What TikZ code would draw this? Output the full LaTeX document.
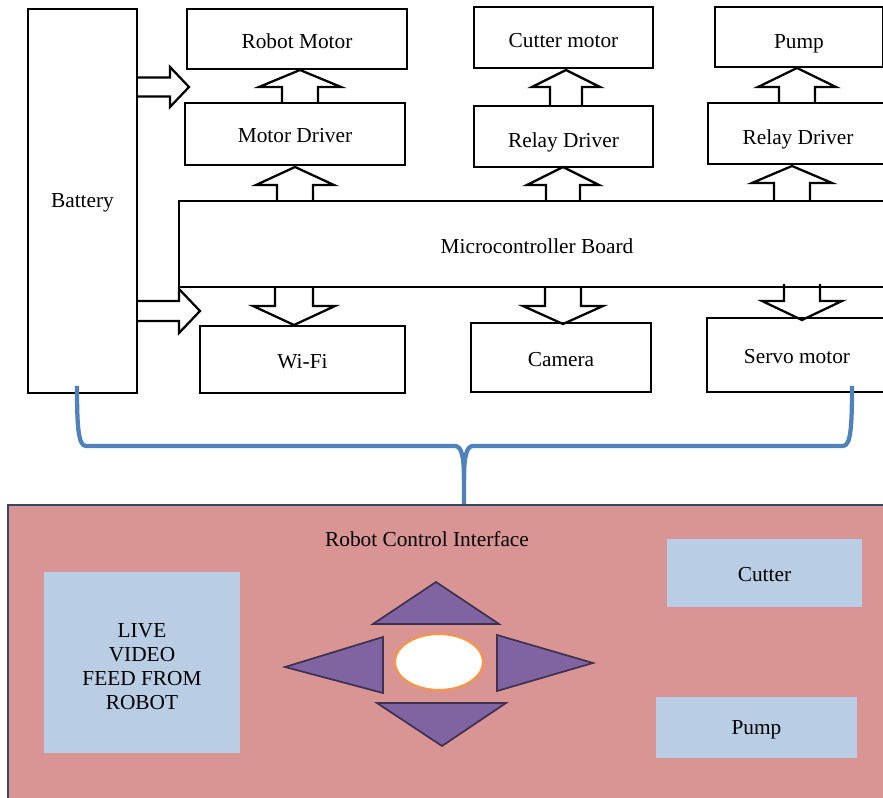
\documentclass[tikz,border=0pt]{standalone}
\usepackage{fontspec}
\setmainfont{Liberation Serif}
\usetikzlibrary{fit}
\definecolor{pinkbg}{HTML}{D99594}
\definecolor{panelborder}{HTML}{34496A}
\definecolor{lightblue}{HTML}{B9CDE5}
\definecolor{purp}{HTML}{8064A2}
\definecolor{purpdark}{HTML}{3F3151}
\definecolor{orng}{HTML}{F79646}
\definecolor{bracecol}{HTML}{4F81BD}
\tikzset{
  box/.style={draw=black, line width=1.7pt, inner sep=0pt, fill=white},
  blk/.style={draw=black, line width=1.7pt, line join=miter},
  uibox/.style={fill=lightblue, inner sep=0pt},
  tri/.style={fill=purp, draw=purpdark, line width=1.3pt, line join=miter},
  txt/.style={inner sep=0pt, anchor=center, yshift=-1.5pt},
}
% up block arrow: x center, y bottom, y tip, y head base, shaft half, head half
\newcommand\uparr[6]{%
  \draw[blk] ({#1-#5},#2) -- ({#1-#5},#4) -- ({#1-#6},#4) -- (#1,#3) -- ({#1+#6},#4) -- ({#1+#5},#4) -- ({#1+#5},#2);}
% down block arrow: x center, y top, y tip, y head base, shaft half, head half
\newcommand\dnarr[6]{%
  \draw[blk] ({#1-#5},#2) -- ({#1-#5},#4) -- ({#1-#6},#4) -- (#1,#3) -- ({#1+#6},#4) -- ({#1+#5},#4) -- ({#1+#5},#2);}
% right block arrow: y center, x left, x tip, x head base, shaft half, head half
\newcommand\rtarr[6]{%
  \draw[blk] (#2,{#1-#5}) -- (#4,{#1-#5}) -- (#4,{#1-#6}) -- (#3,#1) -- (#4,{#1+#6}) -- (#4,{#1+#5}) -- (#2,{#1+#5});}
\begin{document}
\begin{tikzpicture}[x=0.75pt, y=-0.75pt, font=\fontsize{16}{19}\selectfont]
\useasboundingbox (0,0) rectangle (883,798);

% ---- top block diagram ----
\node[box, fit={(28,9) (137,393)}] (bat) {};
\node[box, fit={(187,9) (407,69)}] (rm) {};
\node[box, fit={(185,103) (405,165)}] (md) {};
\node[box, fit={(474,7) (653,68)}] (cm) {};
\node[box, fit={(474,106) (653,167)}] (rd1) {};
\node[box, fit={(715,7) (883,67)}] (pm) {};
\node[box, fit={(708,103) (888,164)}] (rd2) {};
\node[box, fit={(179,201) (895,287)}] (mcu) {};
\node[box, fit={(200,326) (405,393)}] (wifi) {};
\node[box, fit={(471,323) (651,392)}] (cam) {};
\node[box, fit={(707,318) (887,392)}] (servo) {};

\node[txt] (batt) at (bat.center) {Battery};
\node[txt] (rmt) at (rm.center) {Robot Motor};
\node[txt] (mdt) at (md.center) {Motor Driver};
\node[txt, yshift=-1pt] (cmt) at (cm.center) {Cutter motor};
\node[txt, yshift=-3pt] (rd1t) at (rd1.center) {Relay Driver};
\node[txt, yshift=-3.5pt] (pmt) at (pm.center) {Pump};
\node[txt, yshift=-3pt] (rd2t) at (rd2.center) {Relay Driver};
\node[txt] (mcut) at (mcu.center) {Microcontroller Board};
\node[txt] (wifit) at (wifi.center) {Wi-Fi};
\node[txt] (camt) at (cam.center) {Camera};
\node[txt] (servot) at (servo.center) {Servo motor};

% up arrows
\uparr{300}{103}{70}{87}{18}{41}
\uparr{295}{201}{167}{185}{18}{39}
\uparr{566}{106}{70}{87}{16}{34}
\uparr{563}{201}{167}{185}{17}{36}
\uparr{797}{103}{68}{87}{18}{39}
\uparr{792}{201}{166}{183}{18}{40}
% down arrows
\dnarr{294}{287}{325}{306}{19}{41}
\dnarr{563}{287}{324}{306}{18}{40}
\dnarr{802}{284}{320}{301}{18}{40}
% right arrows from battery
\rtarr{87}{137}{189}{170}{9.5}{20}
\rtarr{311}{137}{200}{179}{10}{22}

% ---- brace ----
\coordinate (bl) at (77,386);
\coordinate (br) at (852,386);
\coordinate (bc) at (464,505);
\draw[bracecol, line width=3.2pt, line cap=butt, line join=round]
  (bl) .. controls (77,425) and (78,446) .. (86,446) -- (455,446)
  .. controls (462,446) and (464,458) .. (464,480) -- (bc);
\draw[bracecol, line width=3.2pt, line cap=butt, line join=round]
  (br) .. controls (852,425) and (851,446) .. (843,446) -- (473,446)
  .. controls (466,446) and (464,458) .. (464,480);

% ---- control interface ----
\node[fill=pinkbg, draw=panelborder, line width=1.6pt, inner sep=0pt, fit={(8,505) (895,810)}] (panel) {};
\node[txt] at (427,537) (title) {Robot Control Interface};
\node[uibox, fit={(44,572) (240,753)}] (video) {};
\node[align=center, inner sep=0pt, font=\fontsize{16}{18}\selectfont] at (142,667) (videotxt) {LIVE\\VIDEO\\FEED FROM\\ROBOT};
\node[uibox, fit={(667,539) (862,607)}] (cutter) {};
\node[txt] (cuttert) at (cutter.center) {Cutter};
\node[uibox, fit={(656,697) (857,758)}] (pumpui) {};
\node[txt] (pumpuit) at (pumpui.center) {Pump};

\draw[tri] (436,582) -- (499,624) -- (373,624) -- cycle;
\draw[tri] (285,667) -- (383,637) -- (383,693) -- cycle;
\draw[tri] (593,663) -- (497,635) -- (497,691) -- cycle;
\draw[tri] (442,746) -- (377,703) -- (506,703) -- cycle;
\draw[fill=white, draw=orng, line width=1.6pt] (439,662) ellipse [x radius=44, y radius=28];
\end{tikzpicture}
\end{document}
